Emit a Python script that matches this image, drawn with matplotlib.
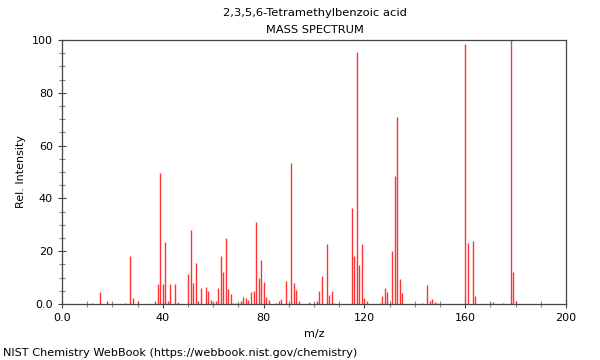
import matplotlib
matplotlib.use("Agg")
import matplotlib.pyplot as plt
from matplotlib.ticker import MultipleLocator, FuncFormatter

mz = [12, 15, 18, 25, 27, 28, 30, 37, 38, 39, 40, 41, 42, 43, 45, 46,
      50, 51, 52, 53, 54, 55, 57, 58, 59, 60, 61, 62, 63, 64, 65, 66, 67, 68, 69,
      71, 72, 73, 74, 75, 76, 77, 78, 79, 80, 81, 82, 85, 86, 87, 89, 91, 92, 93, 94,
      98, 101, 102, 103, 105, 106, 107, 108, 115, 116, 117, 118, 119, 120, 121,
      126, 127, 128, 129, 131, 132, 133, 134, 135, 143, 145, 146, 147, 148, 149,
      160, 161, 163, 164, 170, 171, 175, 178, 179, 180]
intensity = [0.5, 4.7, 1.1, 0.5, 18.2, 2.1, 1.0, 1.0, 7.6, 49.7, 7.5, 23.6, 1.0, 7.6, 7.6, 0.8,
             11.4, 28.0, 8.1, 15.7, 1.0, 5.9, 6.3, 4.9, 1.5, 0.5, 1.0, 6.2, 18.2, 12.0, 25.0, 5.7, 3.8, 0.5, 0.5,
             1.0, 2.8, 2.3, 1.5, 4.4, 5.1, 31.0, 9.8, 16.7, 8.2, 2.7, 1.5, 0.5, 1.2, 1.8, 8.8, 53.3, 7.8, 5.3, 1.2,
             0.6, 1.2, 5.0, 10.6, 22.7, 3.4, 5.0, 0.4, 36.2, 18.3, 95.6, 14.8, 22.7, 2.4, 1.2,
             0.5, 3.1, 5.9, 4.4, 20.1, 48.6, 71.0, 9.5, 4.2, 0.4, 7.1, 1.0, 1.8, 0.6, 0.4,
             98.5, 23.0, 23.9, 3.1, 0.5, 0.8, 0.3, 100.0, 12.3, 1.2]

title_lines = ["2,3,5,6-Tetramethylbenzoic acid", "MASS SPECTRUM"]
credit = "NIST Chemistry WebBook (https://webbook.nist.gov/chemistry)"

fig = plt.figure(figsize=(6, 3.6), dpi=100)
ax = fig.add_axes([62/600, 1-304/360, 504/600, 264/360])
ax.vlines(mz, 0, intensity, colors="#ff3333", linewidth=1.0)
ax.set_xlim(0, 200)
ax.set_ylim(0, 100)

fmt = FuncFormatter(lambda v, p: "0.0" if v == 0 else f"{v:.0f}")
ax.xaxis.set_major_locator(MultipleLocator(40))
ax.xaxis.set_minor_locator(MultipleLocator(10))
ax.yaxis.set_major_locator(MultipleLocator(20))
ax.yaxis.set_minor_locator(MultipleLocator(5))
ax.xaxis.set_major_formatter(fmt)
ax.yaxis.set_major_formatter(fmt)
ax.tick_params(which="major", direction="inout", length=6, width=0.8, color="#444444", labelsize=8)
ax.tick_params(which="minor", direction="inout", length=4, width=0.8, color="#888888")
for s in ax.spines.values():
    s.set_color("#444444")
    s.set_linewidth(0.9)

ax.set_xlabel("m/z", fontsize=8)
ax.set_ylabel("Rel. Intensity", fontsize=8)

t1 = fig.text(315/600, 1-13/360, title_lines[0], ha="center", va="center", fontsize=7.5)
t2 = fig.text(315/600, 1-30/360, title_lines[1], ha="center", va="center", fontsize=7.5)
t3 = fig.text(3/600, 1-353/360, credit, ha="left", va="center", fontsize=8)

# fit text widths to the reference's measured widths (pixels)
fig.canvas.draw()
r = fig.canvas.get_renderer()
for t, target in [(t1, 184), (t2, 97), (t3, 357)]:
    w = t.get_window_extent(r).width
    t.set_fontsize(t.get_fontsize() * target / w)

fig.savefig("out.png", dpi=100)
